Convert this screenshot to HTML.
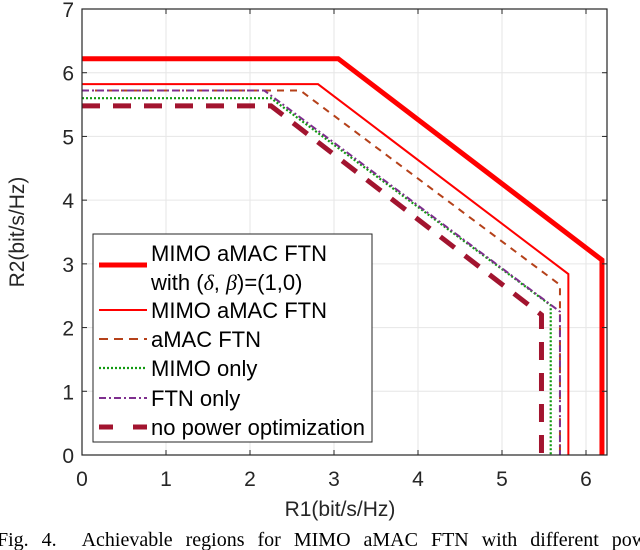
<!DOCTYPE html>
<html><head><meta charset="utf-8"><style>
body{margin:0;background:#fff;width:640px;height:550px;overflow:hidden}
svg{display:block;font-family:"Liberation Sans",sans-serif}
</style></head><body>
<svg id="chart" width="640" height="550" viewBox="0 0 640 550" xmlns="http://www.w3.org/2000/svg"></svg>
<script>
const xTicks=[0,1,2,3,4,5,6];
const yTicks=[0,1,2,3,4,5,6,7];
const seriesNames=["MIMO aMAC FTN with (δ, β)=(1,0)","MIMO aMAC FTN","aMAC FTN","MIMO only","FTN only","no power optimization"];
const s1x=[0,3.05,6.19,6.19]; const s1y=[6.22,6.22,3.06,0];
const s2x=[0,2.81,5.79,5.79]; const s2y=[5.82,5.82,2.84,0];
const s3x=[0,2.6,5.69,5.69]; const s3y=[5.72,5.72,2.67,0];
const s4x=[0,2.25,5.58,5.58]; const s4y=[5.6,5.6,2.35,0];
const s5x=[0,2.17,5.69,5.69]; const s5y=[5.72,5.72,2.25,0];
const s6x=[0,2.25,5.47,5.47]; const s6y=[5.48,5.48,2.2,0];

const L=82,R=607,T=9,B=455,XMAX=6.25,YMAX=7;
const X=v=>L+v/XMAX*(R-L), Y=v=>B-v/YMAX*(B-T);
const svg=document.getElementById('chart');
const NS='http://www.w3.org/2000/svg';
function mk(tag,attrs,parent){const e=document.createElementNS(NS,tag);for(const k in attrs)e.setAttribute(k,attrs[k]);(parent||svg).appendChild(e);return e;}

xTicks.forEach(t=>{const g=mk('line',{x1:X(t),x2:X(t),y1:T,y2:B,stroke:'#e6e6e6','stroke-width':1});

});
yTicks.forEach(t=>{const g=mk('line',{x1:L,x2:R,y1:Y(t),y2:Y(t),stroke:'#e6e6e6','stroke-width':1});

});

const styles=[
 {c:'#ff0000',w:5,d:''},
 {c:'#ff0000',w:2,d:''},
 {c:'#b5411a',w:2,d:'7,6'},
 {c:'#119911',w:2.2,d:'2,2'},
 {c:'#7e2f8e',w:2,d:'7,3,2,3'},
 {c:'#a2142f',w:5,d:'18,13'}];
const xs=[s1x,s2x,s3x,s4x,s5x,s6x], ys=[s1y,s2y,s3y,s4y,s5y,s6y];
const order=[0,1,2,5,3,4];
order.forEach(i=>{
 const pts=xs[i].map((v,j)=>X(v)+','+Y(ys[i][j])).join(' ');
 const p=mk('polyline',{points:pts,fill:'none',stroke:styles[i].c,'stroke-width':styles[i].w,'stroke-dasharray':styles[i].d,'stroke-linejoin':'miter'});
 
 
});

const bx=mk('rect',{x:L,y:T,width:R-L,height:B-T,fill:'none',stroke:'#262626','stroke-width':1.2});


xTicks.forEach(t=>{
 mk('line',{x1:X(t),x2:X(t),y1:B,y2:B-5,stroke:'#262626'});mk('line',{x1:X(t),x2:X(t),y1:T,y2:T+5,stroke:'#262626'});
 const tx=mk('text',{x:X(t),y:486,'text-anchor':'middle','font-size':21,fill:'#262626'});tx.textContent=t;
 
 
});
yTicks.forEach(t=>{
 mk('line',{x1:L,x2:L+5,y1:Y(t),y2:Y(t),stroke:'#262626'});mk('line',{x1:R,x2:R-5,y1:Y(t),y2:Y(t),stroke:'#262626'});
 const tx=mk('text',{x:L-8,y:Y(t)+8,'text-anchor':'end','font-size':21,fill:'#262626'});tx.textContent=t;
 
 
});
const xl=mk('text',{x:340,y:516,'text-anchor':'middle','font-size':21,fill:'#262626'});xl.textContent='R1(bit/s/Hz)';


const yl=mk('text',{x:0,y:0,'text-anchor':'middle','font-size':21,fill:'#262626',transform:'translate(24,232) rotate(-90)'});yl.textContent='R2(bit/s/Hz)';



const lg=mk('g',{});


mk('rect',{x:93,y:234,width:279,height:208,fill:'#fff',stroke:'#262626','stroke-width':1},lg);
const rowY=[265,310,339,368,398,427];
seriesNames.forEach((n,i)=>{
 const s=styles[i];
 const ln=mk('line',{x1:99,x2:147,y1:rowY[i],y2:rowY[i],stroke:s.c,'stroke-width':s.w,'stroke-dasharray':i==5?'14,20':(i==2?'9,6':s.d)},lg);
 
 
 if(i==0){
  const t1=mk('text',{x:151,y:261,'font-size':22,fill:'#000'},lg);t1.textContent='MIMO aMAC FTN';
  
  
  const t2=mk('text',{x:151,y:290,'font-size':22,fill:'#000'},lg);
  t2.innerHTML='with (<tspan font-style="italic" font-family="Liberation Serif">δ</tspan>, <tspan font-style="italic" font-family="Liberation Serif">β</tspan>)=(1,0)';
  
  
 } else {
  const t=mk('text',{x:151,y:rowY[i]+8,'font-size':22,fill:'#000'},lg);t.textContent=n;
  
  
 }
});
const cap=mk('text',{x:-3,y:546,'font-size':20,'font-family':'Liberation Serif',fill:'#000',style:'white-space:pre','word-spacing':'8'});
cap.textContent='Fig. 4.  Achievable regions for MIMO aMAC FTN with different pow';


</script>
</body></html>
